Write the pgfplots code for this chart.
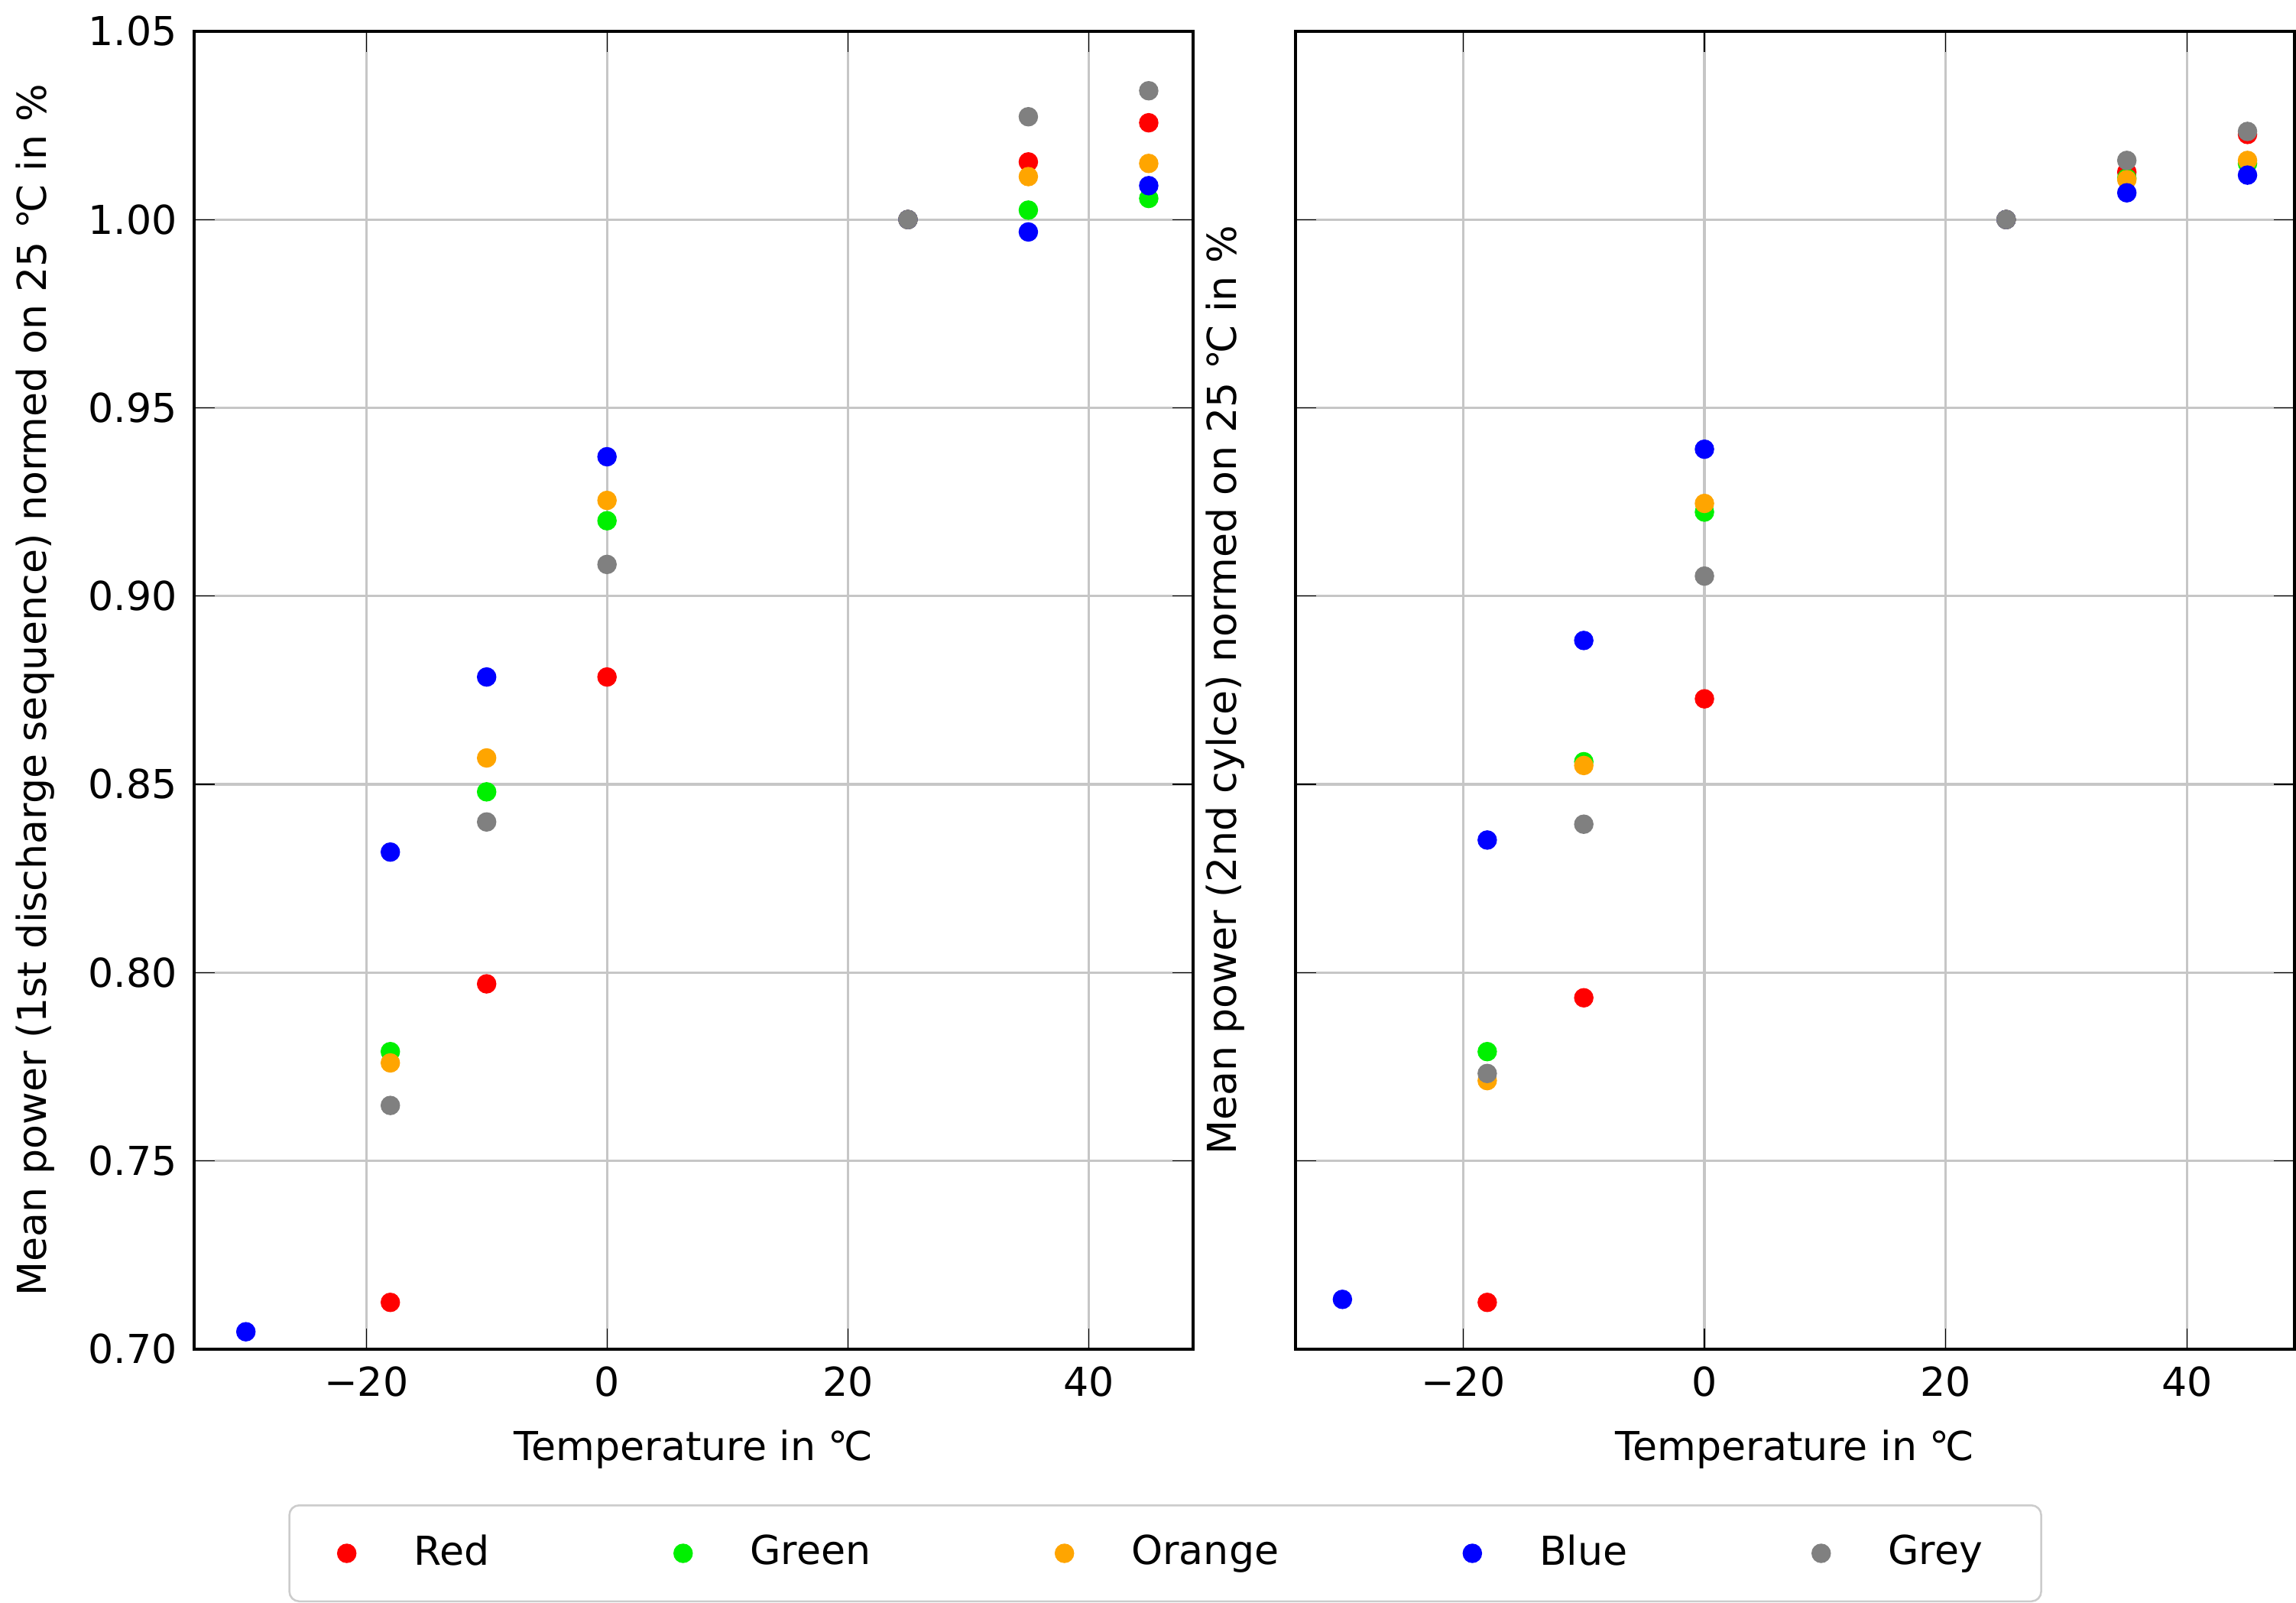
\documentclass[border=0pt]{standalone}
\usepackage{pgfplots}
\pgfplotsset{compat=1.18}
\usepackage{fontspec}
\setmainfont{DejaVu Sans}
\definecolor{cR}{RGB}{255,0,0}
\definecolor{cG}{RGB}{0,240,0}
\definecolor{cO}{RGB}{255,165,0}
\definecolor{cB}{RGB}{0,0,255}
\definecolor{cY}{RGB}{128,128,128}
\pgfplotsset{
 pt/.style={only marks, mark=*, mark size=1.8pt, color=#1, mark options={fill=#1, draw=#1}},
 common/.style={
  scale only axis, width=205.5pt, height=271pt,
  ymin=0.70, ymax=1.05, xmin=-34.3, xmax=48.7,
  xtick={-20,0,20,40}, xticklabels={−20,0,20,40}, ytick={0.70,0.75,...,1.05},
  grid=major, grid style={gray!45, line width=0.5pt},
  tick style={black}, axis line style={line width=0.6pt},
  /pgf/number format/assume math mode=true,
  tick label style={font=\fontsize{8.2}{10}\selectfont},
  label style={font=\fontsize{8.2}{10}\selectfont},
  yticklabel style={/pgf/number format/.cd,fixed,fixed zerofill,precision=2},
  xlabel={Temperature in ℃}}}
\begin{document}
\begin{tikzpicture}
\begin{axis}[common, name=L, ylabel={Mean power (1st discharge sequence) normed on 25 ℃ in \%},
  legend columns=5, legend style={at={(0.972,-0.155)}, anchor=center, draw=gray!40, rounded corners=2pt,
  font=\fontsize{8.2}{10}\selectfont, inner xsep=10pt, inner ysep=4pt,
  /tikz/every odd column/.append style={column sep=10pt},
  /tikz/every even column/.append style={column sep=36pt}}]
\addplot[pt=cR] coordinates {(-18,0.7124)(-10,0.797)(0,0.8785)(25,1.0)(35,1.0153)(45,1.0257)};
\addplot[pt=cG] coordinates {(-18,0.779)(-10,0.848)(0,0.920)(25,1.0)(35,1.0025)(45,1.0056)};
\addplot[pt=cO] coordinates {(-18,0.776)(-10,0.857)(0,0.9254)(25,1.0)(35,1.0114)(45,1.0149)};
\addplot[pt=cB] coordinates {(-30,0.7046)(-18,0.832)(-10,0.8785)(0,0.937)(25,1.0)(35,0.9967)(45,1.009)};
\addplot[pt=cY] coordinates {(-18,0.7647)(-10,0.840)(0,0.9084)(25,1.0)(35,1.0273)(45,1.0342)};
\legend{Red,Green,Orange,Blue,Grey}
\end{axis}
\begin{axis}[common, at={(226.5pt,0)}, xmin=-33.9, xmax=48.9, yticklabels={},
  ylabel={Mean power (2nd cylce) normed on 25 ℃ in \%}]
\addplot[pt=cR] coordinates {(-18,0.7124)(-10,0.7933)(0,0.8727)(25,1.0)(35,1.0126)(45,1.0226)};
\addplot[pt=cG] coordinates {(-18,0.779)(-10,0.856)(0,0.9223)(25,1.0)(35,1.011)(45,1.0149)};
\addplot[pt=cO] coordinates {(-18,0.7713)(-10,0.855)(0,0.9246)(25,1.0)(35,1.0106)(45,1.0157)};
\addplot[pt=cB] coordinates {(-30,0.7132)(-18,0.8352)(-10,0.8882)(0,0.939)(25,1.0)(35,1.0071)(45,1.0118)};
\addplot[pt=cY] coordinates {(-18,0.7732)(-10,0.8394)(0,0.9053)(25,1.0)(35,1.0157)(45,1.0234)};
\end{axis}
\end{tikzpicture}
\end{document}
